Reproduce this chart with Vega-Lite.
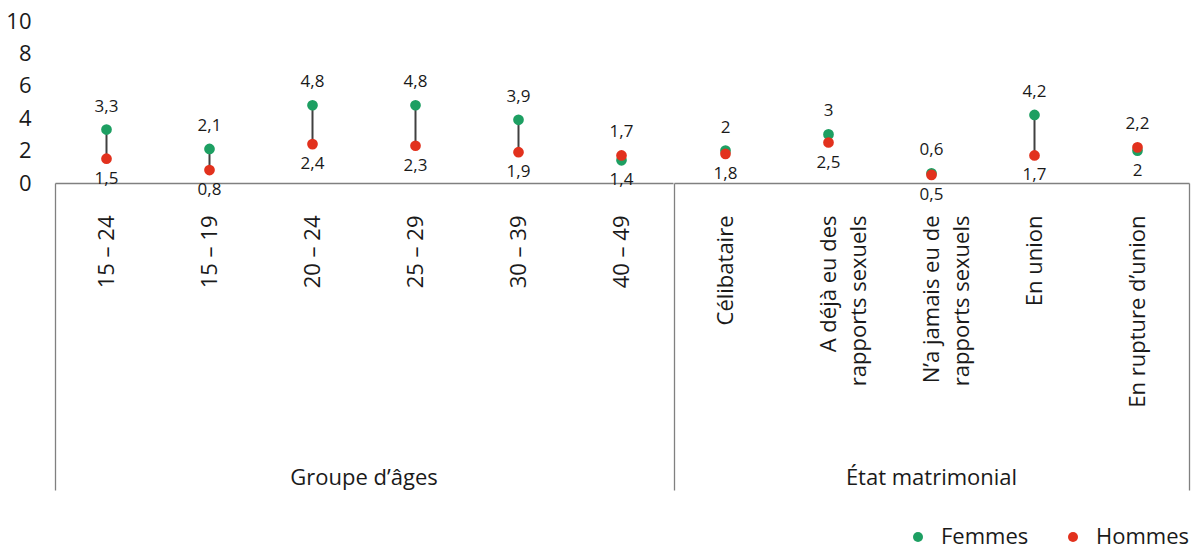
{
  "$schema": "https://vega.github.io/schema/vega-lite/v6.json",
  "padding": {"left": 5, "top": 10, "right": 5, "bottom": 15},
  "config": {
    "font": "Open Sans",
    "view": {"stroke": null},
    "locale": {"number": {"decimal": ",", "thousands": " ", "grouping": [3], "currency": ["", " €"]}},
    "axis": {"labelFont": "Open Sans", "labelColor": "#1a1a1a"},
    "legend": {"labelFont": "Open Sans", "labelFontSize": 22, "labelColor": "#1a1a1a"}
  },
  "data": {"values": [
    {"groupe": "Groupe d’âges", "cat": "15 – 24", "Femmes": 3.3, "Hommes": 1.5},
    {"groupe": "Groupe d’âges", "cat": "15 – 19", "Femmes": 2.1, "Hommes": 0.8},
    {"groupe": "Groupe d’âges", "cat": "20 – 24", "Femmes": 4.8, "Hommes": 2.4},
    {"groupe": "Groupe d’âges", "cat": "25 – 29", "Femmes": 4.8, "Hommes": 2.3},
    {"groupe": "Groupe d’âges", "cat": "30 – 39", "Femmes": 3.9, "Hommes": 1.9},
    {"groupe": "Groupe d’âges", "cat": "40 – 49", "Femmes": 1.4, "Hommes": 1.7},
    {"groupe": "État matrimonial", "cat": "Célibataire", "Femmes": 2, "Hommes": 1.8},
    {"groupe": "État matrimonial", "cat": "A déjà eu des rapports sexuels", "Femmes": 3, "Hommes": 2.5},
    {"groupe": "État matrimonial", "cat": "N’a jamais eu de rapports sexuels", "Femmes": 0.6, "Hommes": 0.5},
    {"groupe": "État matrimonial", "cat": "En union", "Femmes": 4.2, "Hommes": 1.7},
    {"groupe": "État matrimonial", "cat": "En rupture d’union", "Femmes": 2, "Hommes": 2.2}
  ]},
  "facet": {
    "column": {
      "field": "groupe", "type": "nominal",
      "sort": ["Groupe d’âges", "État matrimonial"],
      "title": null,
      "header": {"labelOrient": "bottom", "labelFontSize": 22, "labelPadding": -23, "labelColor": "#1a1a1a", "labelFont": "Open Sans"}
    }
  },
  "spacing": 0,
  "resolve": {"scale": {"x": "independent"}},
  "spec": {
    "width": {"step": 103},
    "height": 162,
    "resolve": {"axis": {"x": "independent"}},
    "layer": [
      {
        "mark": {"type": "rule", "color": "#404040", "strokeWidth": 2},
        "encoding": {
          "x": {"field": "cat", "type": "nominal", "sort": null, "scale": {"paddingInner": 0, "paddingOuter": 0},
            "axis": {"orient": "bottom", "bandPosition": 0, "labels": false, "domain": false, "ticks": true, "tickSize": 307, "tickColor": "#808080", "tickWidth": 1.3, "grid": false, "title": null,
              "tickOpacity": {"condition": {"test": "datum.value === '15 – 24' || datum.value === 'Célibataire'", "value": 1}, "value": 0}}},
          "y": {"field": "Femmes", "type": "quantitative", "scale": {"domain": [0, 10], "nice": false},
            "axis": {"values": [0, 2, 4, 6, 8, 10], "labelFontSize": 22, "labelPadding": 23, "ticks": false, "domain": false, "grid": false, "title": null}},
          "y2": {"field": "Hommes"}
        }
      },
      {
        "transform": [{"fold": ["Femmes", "Hommes"], "as": ["sexe", "value"]}],
        "mark": {"type": "circle", "size": 115, "opacity": 1},
        "encoding": {
          "x": {"field": "cat", "type": "nominal", "sort": null, "scale": {"paddingInner": 0, "paddingOuter": 0},
            "axis": {"orient": "bottom", "labelAngle": -90, "labelFontSize": 22, "labelPadding": 32, "labelLineHeight": 30, "labelLimit": 400, "ticks": false, "tickSize": 0, "domain": true, "domainColor": "#808080", "domainWidth": 1.3, "grid": false, "title": null,
              "labelExpr": "datum.label === 'A déjà eu des rapports sexuels' ? ['A déjà eu des', 'rapports sexuels'] : datum.label === 'N’a jamais eu de rapports sexuels' ? ['N’a jamais eu de', 'rapports sexuels'] : datum.label"}},
          "y": {"field": "value", "type": "quantitative", "scale": {"domain": [0, 10], "nice": false},
            "axis": {"values": [0, 2, 4, 6, 8, 10], "labelFontSize": 22, "labelPadding": 23, "ticks": false, "domain": false, "grid": false, "title": null}},
          "color": {"field": "sexe", "type": "nominal", "scale": {"domain": ["Femmes", "Hommes"], "range": ["#1d9f62", "#e2311d"]},
            "legend": {"title": null, "orient": "none", "direction": "horizontal", "legendX": 852, "legendY": 505, "symbolType": "circle", "symbolSize": 100, "labelOffset": 12, "columnPadding": 33}}
        }
      },
      {
        "transform": [
          {"fold": ["Femmes", "Hommes"], "as": ["sexe", "value"]},
          {"joinaggregate": [{"op": "max", "field": "value", "as": "maxv"}], "groupby": ["cat"]},
          {"filter": "datum.value == datum.maxv"}
        ],
        "mark": {"type": "text", "dy": -23, "fontSize": 17, "color": "#1a1a1a", "font": "Open Sans"},
        "encoding": {
          "x": {"field": "cat", "type": "nominal", "sort": null, "scale": {"paddingInner": 0, "paddingOuter": 0},
            "axis": {"orient": "bottom", "bandPosition": 1, "labels": false, "domain": false, "ticks": true, "tickSize": 307, "tickColor": "#808080", "tickWidth": 1.3, "grid": false, "title": null,
              "tickOpacity": {"condition": {"test": "datum.value === 'En rupture d’union'", "value": 1}, "value": 0}}},
          "y": {"field": "value", "type": "quantitative", "scale": {"domain": [0, 10], "nice": false},
            "axis": {"values": [0, 2, 4, 6, 8, 10], "labelFontSize": 22, "labelPadding": 23, "ticks": false, "domain": false, "grid": false, "title": null}},
          "text": {"field": "value", "type": "quantitative", "format": ".1~f"}
        }
      },
      {
        "transform": [
          {"fold": ["Femmes", "Hommes"], "as": ["sexe", "value"]},
          {"joinaggregate": [{"op": "max", "field": "value", "as": "maxv"}], "groupby": ["cat"]},
          {"filter": "datum.value < datum.maxv"}
        ],
        "mark": {"type": "text", "dy": 20, "fontSize": 17, "color": "#1a1a1a", "font": "Open Sans"},
        "encoding": {
          "x": {"field": "cat", "type": "nominal", "sort": null, "scale": {"paddingInner": 0, "paddingOuter": 0}, "axis": null},
          "y": {"field": "value", "type": "quantitative", "scale": {"domain": [0, 10], "nice": false},
            "axis": {"values": [0, 2, 4, 6, 8, 10], "labelFontSize": 22, "labelPadding": 23, "ticks": false, "domain": false, "grid": false, "title": null}},
          "text": {"field": "value", "type": "quantitative", "format": ".1~f"}
        }
      }
    ]
  }
}
